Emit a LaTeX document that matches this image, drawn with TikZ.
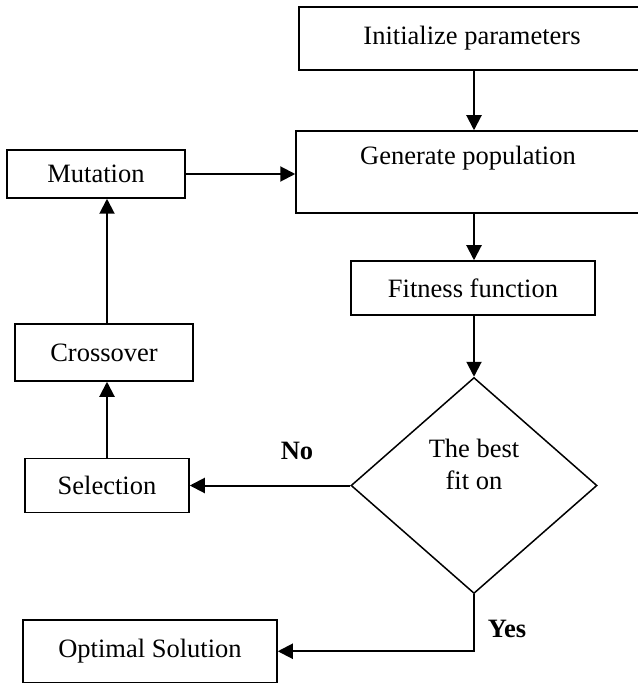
\documentclass[tikz,border=0pt]{standalone}
\usepackage{fontspec}
\setmainfont{Liberation Serif}
\usetikzlibrary{shapes.geometric,arrows.meta}
\begin{document}
\begin{tikzpicture}[x=1pt,y=-1pt,
  every node/.style={font=\fontsize{26.5}{26}\selectfont},
  box/.style={draw,line width=1.5pt,rectangle,inner sep=0pt,align=center},
  decision/.style={draw,line width=1.5pt,diamond,inner sep=0pt,align=center,
    font=\fontsize{26.5}{32}\selectfont},
  flow/.style={line width=2pt,-{Triangle[length=15pt,width=15pt]}},
  lbl/.style={font=\fontsize{26.5}{26}\selectfont\bfseries}]
\useasboundingbox (0,0) rectangle (637,684);
\node[box,minimum width=346pt,minimum height=63pt] (init) at (472,38.5) {Initialize parameters};
\node[box,minimum width=344pt,minimum height=82pt] (gen) at (468,172) {Generate population\\\strut};
\node[box,minimum width=244pt,minimum height=54pt] (fit) at (473,288) {Fitness function};
\node[decision,minimum width=246pt,minimum height=216pt] (dec) at (474,485.5) {The best\\fit on\\\strut};
\node[box,minimum width=178pt,minimum height=48pt] (mut) at (96,174) {Mutation};
\node[box,minimum width=178pt,minimum height=57pt] (cross) at (104,352.5) {Crossover};
\node[box,minimum width=164pt,minimum height=54pt] (sel) at (107,485.5) {Selection};
\node[box,minimum width=254pt,minimum height=62.5pt] (opt) at (150,651.25) {Optimal Solution};
\node[lbl] (no) at (297,451) {No};
\node[lbl] (yes) at (507,629) {Yes};
\draw[flow] (init.south -| dec.north) -- (gen.north -| dec.north);
\draw[flow] (gen.south -| dec.north) -- (fit.north -| dec.north);
\draw[flow] (fit.south -| dec.north) -- (dec.north);
\draw[flow] (dec.west) -- (sel.east);
\draw[flow] (sel.north) -- (sel.north |- cross.south);
\draw[flow] (sel.north |- cross.north) -- (sel.north |- mut.south);
\draw[flow] (mut.east) -- (mut.east -| gen.west);
\draw[flow] (dec.south) |- (opt.east);
\end{tikzpicture}
\end{document}
